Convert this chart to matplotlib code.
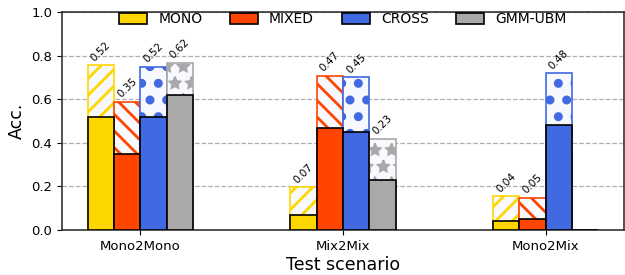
import matplotlib
matplotlib.use("Agg")
import matplotlib.pyplot as plt
import numpy as np

scenarios = ["Mono2Mono", "Mix2Mix", "Mono2Mix"]
systems = ["MONO", "MIXED", "CROSS", "GMM-UBM"]
colors = ["#FFD700", "#FF4500", "#4169E1", "#A9A9A9"]
hatches = ["//", "\\\\", ".", "*"]
hatch_lws = [2.0, 2.0, 4.0, 1.5]

# solid (labelled) accuracy per system, per scenario
base_mono = [0.52, 0.07, 0.04]
base_mixed = [0.35, 0.47, 0.05]
base_cross = [0.52, 0.45, 0.48]
base_gmm = [0.62, 0.23, 0.0]
# upper (hatched) accuracy per system, per scenario
top_mono = [0.755, 0.196, 0.155]
top_mixed = [0.589, 0.708, 0.147]
top_cross = [0.748, 0.700, 0.719]
top_gmm = [0.768, 0.419, 0.0]

bases = [base_mono, base_mixed, base_cross, base_gmm]
tops = [top_mono, top_mixed, top_cross, top_gmm]

fig = plt.figure(figsize=(6.25, 2.75), dpi=100)
ax = fig.add_axes([0.0992, 0.1636, 0.8992, 0.7928])

x = np.arange(len(scenarios))
w = 0.13
for i, (name, c, h) in enumerate(zip(systems, colors, hatches)):
    pos = x + (i - 1.5) * w
    b = np.array(bases[i])
    t = np.array(tops[i])
    with plt.rc_context({'hatch.linewidth': hatch_lws[i]}):
        cont = ax.bar(pos, t, w, color="ghostwhite", edgecolor=c, hatch=h,
                      linewidth=1.2, zorder=2)
    for p in cont:
        if hasattr(p, "set_hatch_linewidth"):
            p.set_hatch_linewidth(hatch_lws[i])
    ax.bar(pos, b, w, color=c, edgecolor="black", linewidth=1.2, zorder=3, label=name)
    for p, bv, tv in zip(pos, b, t):
        if tv > 0:
            ax.text(p, tv + 0.01, f"{bv:.2f}", rotation=45, ha="center", va="bottom",
                    fontsize=7.5, zorder=4)

ax.set_ylim(0, 1.0)
ax.set_yticks([0.0, 0.2, 0.4, 0.6, 0.8, 1.0])
ax.set_xticks(x)
ax.set_xticklabels(scenarios)
ax.tick_params(labelsize=9.5)
ax.yaxis.grid(True, linestyle="--", color="#b0b0b0", linewidth=0.9, zorder=0)
ax.set_axisbelow(True)
ax.set_xlabel("Test scenario", fontsize=12.5, labelpad=2)
ax.set_ylabel("Acc.", fontsize=12.5)
for s in ax.spines.values():
    s.set_linewidth(1.2)
    s.set_color("#333333")

ax.legend(loc="upper center", ncol=4, frameon=False, fontsize=10,
          bbox_to_anchor=(0.5, 1.055), handlelength=2.0, handleheight=0.8,
          columnspacing=2.0)

fig.savefig("out.png", dpi=100)
